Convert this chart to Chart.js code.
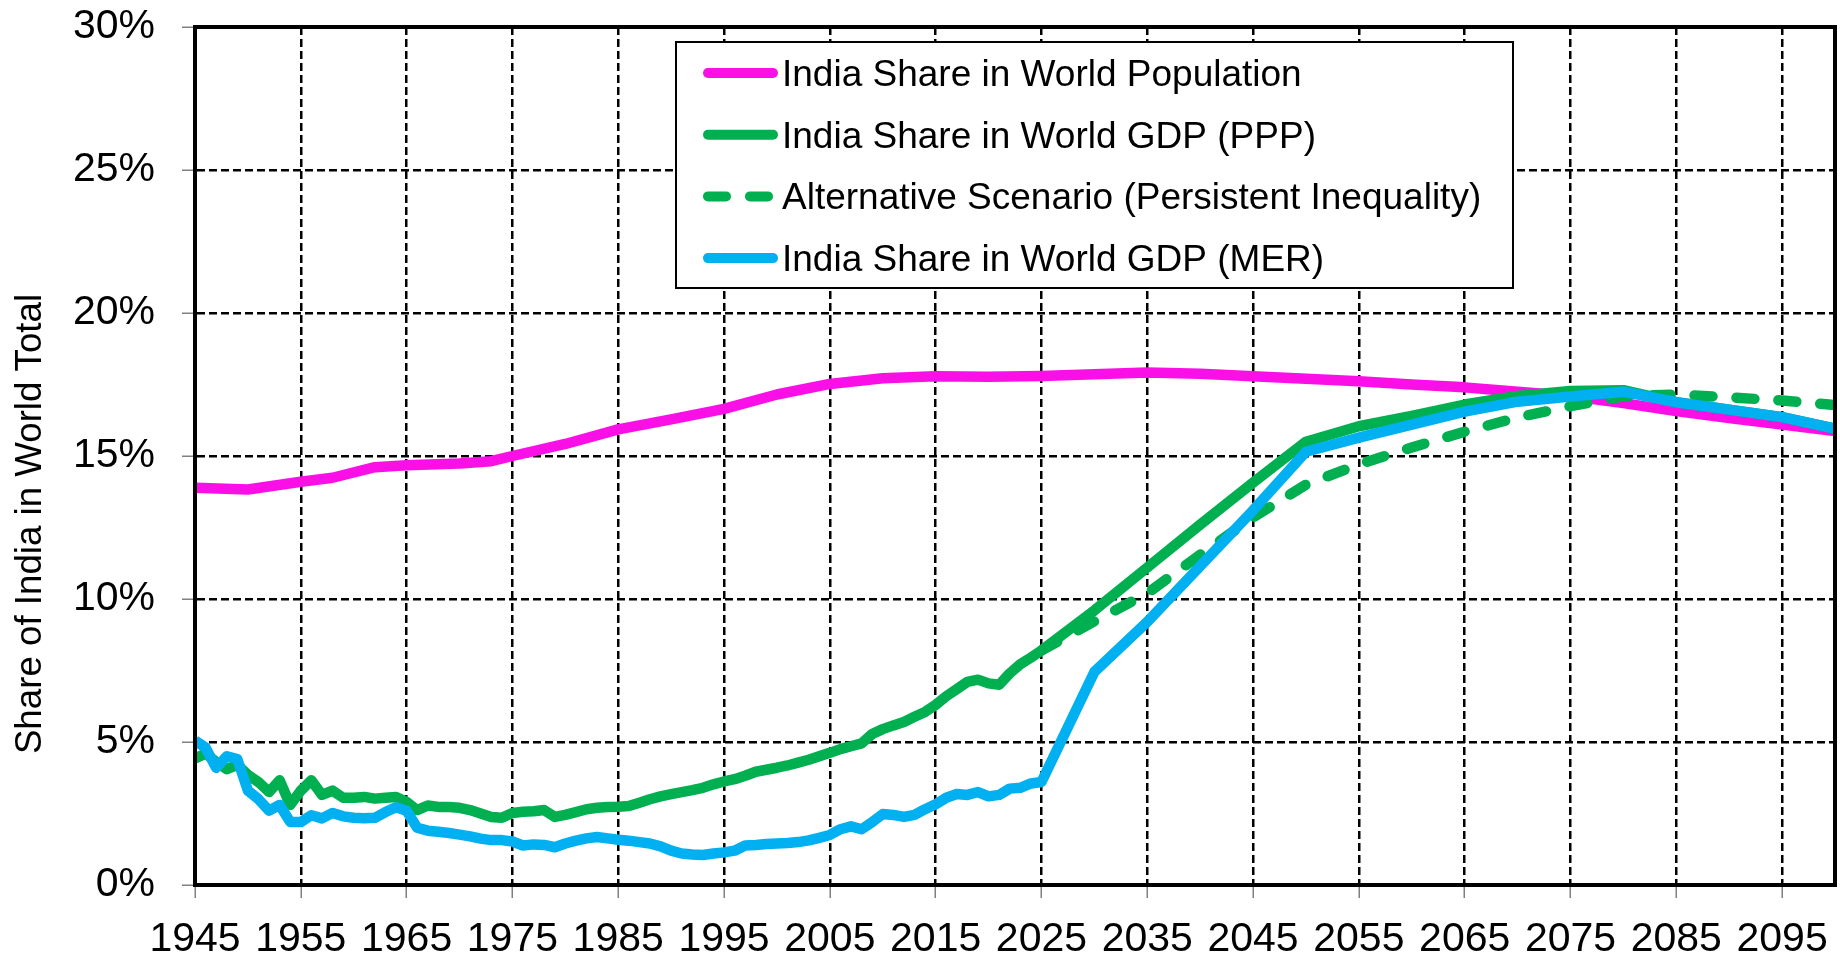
<!DOCTYPE html>
<html>
<head>
<meta charset="utf-8">
<title>India Share in World Total</title>
<script src="https://cdn.jsdelivr.net/npm/chart.js@4.4.0/dist/chart.umd.min.js"></script>
<style>
  html, body { margin: 0; padding: 0; background: #fff; }
  #wrap { width: 1840px; height: 954px; position: relative; }
</style>
</head>
<body>
<div id="wrap"><canvas id="myChart"></canvas></div>
<script>
// India's share of world population and world GDP, history + projections (%)
var FONT = "'Liberation Sans', Arial, sans-serif";

var tickYears = [1945, 1955, 1965, 1975, 1985, 1995, 2005, 2015, 2025, 2035, 2045, 2055, 2065, 2075, 2085, 2095];

var popYears = [1945, 1950, 1955, 1958, 1962, 1965, 1970, 1973, 1975, 1980, 1985, 1990, 1995, 2000,
  2005, 2010, 2015, 2020, 2025, 2030, 2035, 2040, 2045, 2050, 2055, 2060, 2065, 2070, 2075, 2080,
  2085, 2090, 2095, 2100];
var popShare = [13.89, 13.83, 14.1, 14.24, 14.61, 14.68, 14.74, 14.82, 15.0, 15.42, 15.93, 16.28, 16.65, 17.15,
  17.52, 17.72, 17.79, 17.77, 17.8, 17.86, 17.92, 17.88, 17.79, 17.7, 17.61, 17.5, 17.4, 17.25, 17.1, 16.85,
  16.57, 16.33, 16.1, 15.87];

// annual history to 2025, then 5-year projections
var gdpYears = [1945, 1946, 1947, 1948, 1949, 1950, 1951, 1952, 1953, 1954, 1955, 1956, 1957, 1958, 1959,
  1960, 1961, 1962, 1963, 1964, 1965, 1966, 1967, 1968, 1969, 1970, 1971, 1972, 1973, 1974,
  1975, 1976, 1977, 1978, 1979, 1980, 1981, 1982, 1983, 1984, 1985, 1986, 1987, 1988, 1989,
  1990, 1991, 1992, 1993, 1994, 1995, 1996, 1997, 1998, 1999, 2000, 2001, 2002, 2003, 2004,
  2005, 2006, 2007, 2008, 2009, 2010, 2011, 2012, 2013, 2014, 2015, 2016, 2017, 2018, 2019,
  2020, 2021, 2022, 2023, 2024, 2025, 2030, 2035, 2040, 2045, 2050, 2055, 2060, 2065, 2070,
  2075, 2080, 2085, 2090, 2095, 2100];
var pppShare = [4.42, 4.6, 4.3, 4.05, 4.2, 3.85, 3.6, 3.25, 3.66, 2.8, 3.3, 3.66, 3.15, 3.3, 3.05,
  3.05, 3.08, 3.02, 3.05, 3.08, 2.9, 2.62, 2.78, 2.73, 2.73, 2.7, 2.62, 2.5, 2.38, 2.35,
  2.52, 2.56, 2.58, 2.62, 2.38, 2.45, 2.55, 2.65, 2.7, 2.73, 2.74, 2.76, 2.88, 3.0, 3.1,
  3.18, 3.25, 3.32, 3.4, 3.52, 3.62, 3.7, 3.82, 3.96, 4.03, 4.1, 4.18, 4.28, 4.38, 4.5,
  4.62, 4.75, 4.85, 4.95, 5.28, 5.45, 5.58, 5.7, 5.88, 6.05, 6.3, 6.6, 6.85, 7.1, 7.18,
  7.05, 7.0, 7.4, 7.72, 7.95, 8.2, 9.6, 11.1, 12.6, 14.07, 15.5, 16.04, 16.4, 16.8, 17.1,
  17.27, 17.3, 16.88, 16.62, 16.36, 15.96];
var merShare = [5.05, 4.8, 4.1, 4.5, 4.4, 3.3, 3.0, 2.6, 2.8, 2.2, 2.2, 2.44, 2.33, 2.52, 2.4,
  2.35, 2.33, 2.35, 2.55, 2.72, 2.6, 2.0, 1.9, 1.86, 1.82, 1.76, 1.7, 1.62, 1.57, 1.57,
  1.52, 1.38, 1.42, 1.4, 1.32, 1.45, 1.55, 1.63, 1.68, 1.63, 1.58, 1.55, 1.5, 1.45, 1.35,
  1.2, 1.1, 1.07, 1.05, 1.1, 1.14, 1.2, 1.38, 1.4, 1.43, 1.45, 1.47, 1.5, 1.56, 1.65,
  1.75, 1.95, 2.05, 1.95, 2.2, 2.48, 2.45, 2.38, 2.45, 2.65, 2.82, 3.05, 3.18, 3.15, 3.25,
  3.1, 3.15, 3.37, 3.4, 3.55, 3.6, 7.45, 9.2, 11.15, 13.1, 15.15, 15.64, 16.1, 16.55, 16.9,
  17.08, 17.25, 16.88, 16.62, 16.36, 15.96];

var altYears = [2025, 2030, 2035, 2040, 2045, 2050, 2055, 2060, 2065, 2070, 2075, 2080, 2085, 2090, 2095, 2100];
var altShare = [8.2, 9.22, 10.2, 11.55, 12.85, 14.0, 14.71, 15.3, 15.85, 16.35, 16.74, 17.09, 17.15, 17.05, 16.94, 16.78];

function toPoints(xs, ys) {
  return xs.map(function(x, i) { return { x: x, y: ys[i] }; });
}

// thick black frame round the plot area
var plotFrame = {
  id: 'plotFrame',
  afterDatasetsDraw: function(chart) {
    var a = chart.chartArea, ctx = chart.ctx;
    ctx.save();
    ctx.lineWidth = 4;
    ctx.strokeStyle = '#000';
    ctx.strokeRect(a.left, a.top, a.right - a.left, a.bottom - a.top);
    ctx.restore();
  }
};

// y axis title, sits a bit below the middle of the plot
var yTitle = {
  id: 'yTitle',
  afterDraw: function(chart) {
    var ctx = chart.ctx;
    ctx.save();
    ctx.translate(31, 524);
    ctx.rotate(-Math.PI / 2);
    ctx.font = '36.7px ' + FONT;
    ctx.fillStyle = '#000';
    ctx.textAlign = 'center';
    ctx.textBaseline = 'middle';
    ctx.fillText('Share of India in World Total', 0, 0);
    ctx.restore();
  }
};

// boxed legend inside the plot
var boxLegend = {
  id: 'boxLegend',
  afterDraw: function(chart) {
    var ctx = chart.ctx;
    var x = 676, y = 42, w = 837, h = 246;
    ctx.save();
    ctx.fillStyle = '#fff';
    ctx.fillRect(x, y, w, h);
    ctx.lineWidth = 2;
    ctx.strokeStyle = '#000';
    ctx.strokeRect(x, y, w, h);
    chart.data.datasets.forEach(function(ds, i) {
      var cy = y + 31 + i * 61.7;
      ctx.beginPath();
      ctx.lineWidth = 10;
      ctx.strokeStyle = ds.borderColor;
      ctx.lineCap = 'round';
      ctx.setLineDash(ds.borderDash || []);
      ctx.moveTo(x + 32, cy);
      ctx.lineTo(x + 97, cy);
      ctx.stroke();
      ctx.setLineDash([]);
      ctx.fillStyle = '#000';
      ctx.font = '37px ' + FONT;
      ctx.textBaseline = 'alphabetic';
      ctx.fillText(ds.label, x + 106, cy + 13);
    });
    ctx.restore();
  }
};

var ctx = document.getElementById('myChart').getContext('2d');
var myChart = new Chart(ctx, {
  type: 'line',
  data: {
    datasets: [{
      label: 'India Share in World Population',
      data: toPoints(popYears, popShare),
      borderColor: '#FA10E6',
      borderWidth: 10.5,
      order: 4
    }, {
      label: 'India Share in World GDP (PPP)',
      data: toPoints(gdpYears, pppShare),
      borderColor: '#00B050',
      borderWidth: 10.5,
      order: 3
    }, {
      label: 'Alternative Scenario (Persistent Inequality)',
      data: toPoints(altYears, altShare),
      borderColor: '#00B050',
      borderWidth: 10.5,
      borderDash: [18, 24],
      borderCapStyle: 'round',
      order: 2
    }, {
      label: 'India Share in World GDP (MER)',
      data: toPoints(gdpYears, merShare),
      borderColor: '#00B0F0',
      borderWidth: 10.5,
      order: 1
    }]
  },
  options: {
    responsive: true,
    maintainAspectRatio: false,
    animation: false,
    elements: {
      point: { radius: 0, hoverRadius: 0 },
      line: { tension: 0, fill: false, borderJoinStyle: 'round' }
    },
    layout: { padding: { top: 27, right: 5, left: 0, bottom: 0 } },
    plugins: {
      legend: { display: false },
      tooltip: { enabled: false }
    },
    scales: {
      x: {
        type: 'linear',
        min: 1945,
        max: 2100,
        afterBuildTicks: function(scale) {
          scale.ticks = tickYears.map(function(v) { return { value: v }; });
        },
        afterFit: function(scale) {
          scale.height = 69;
          scale.paddingLeft = 0;
          scale.paddingRight = 0;
        },
        ticks: {
          autoSkip: false,
          maxRotation: 0,
          padding: 17,
          color: '#000',
          font: { family: FONT, size: 41 },
          callback: function(value) { return String(value); }
        },
        grid: {
          color: '#000',
          lineWidth: 2.5,
          tickLength: 13,
          tickColor: '#808080',
          tickWidth: 1.5
        },
        border: { display: true, color: '#000', width: 4, dash: [8, 4] }
      },
      y: {
        min: 0,
        max: 30,
        afterFit: function(scale) {
          scale.width = 195;
          // keep the top label from pushing the plot down
          scale.paddingTop = 0;
          scale.paddingBottom = 0;
        },
        ticks: {
          stepSize: 5,
          padding: 27,
          color: '#000',
          font: { family: FONT, size: 41 },
          callback: function(value) { return value + '%'; }
        },
        grid: {
          color: '#000',
          lineWidth: 2.5,
          tickLength: 13,
          tickColor: '#808080',
          tickWidth: 1.5
        },
        border: { display: true, color: '#000', width: 4, dash: [8, 4] }
      }
    }
  },
  plugins: [plotFrame, yTitle, boxLegend]
});
</script>
</body>
</html>
